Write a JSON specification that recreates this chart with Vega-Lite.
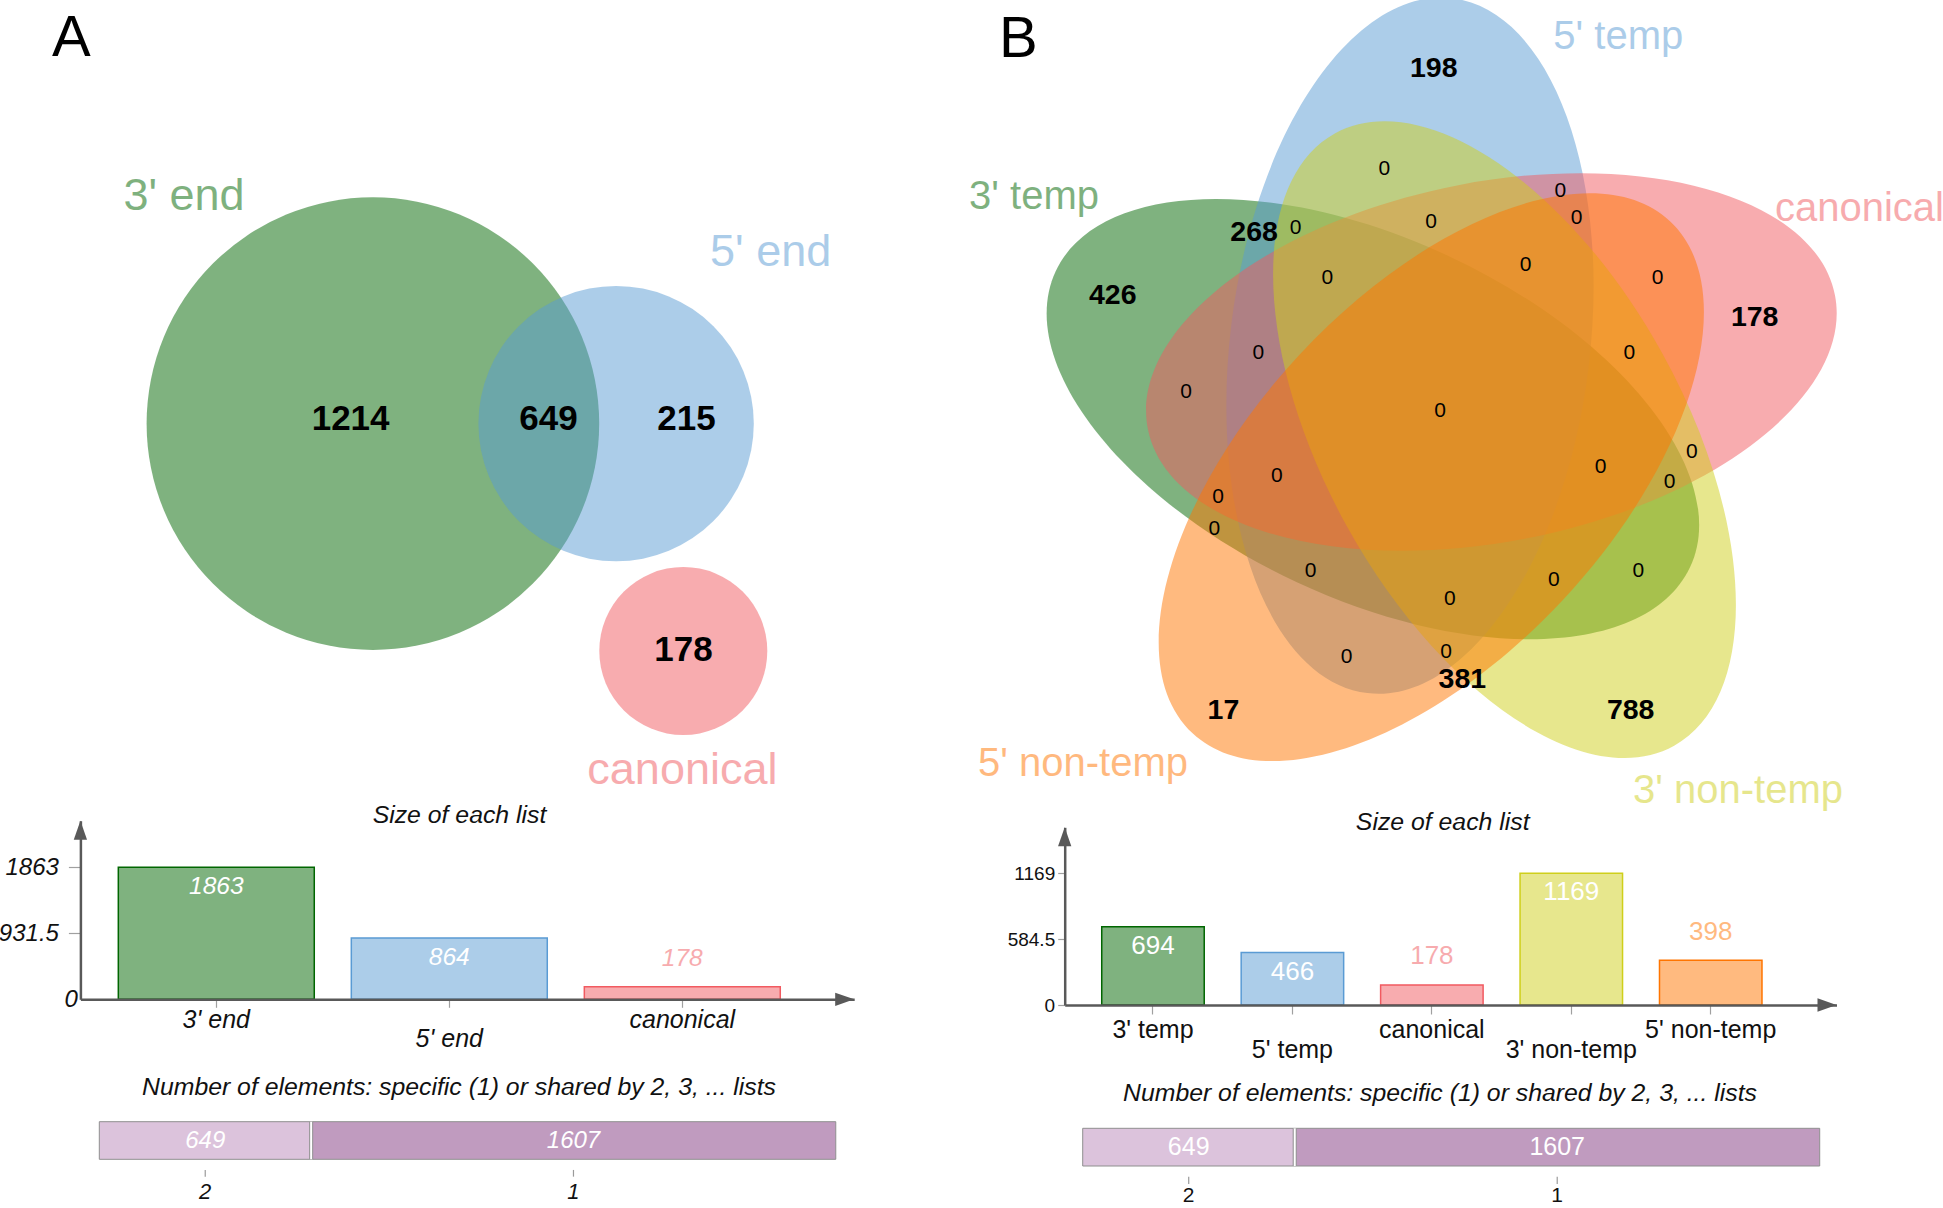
{
  "$schema": "https://vega.github.io/schema/vega-lite/v6.json",
  "width": 1943,
  "height": 1208,
  "padding": 0,
  "autosize": {"type": "none"},
  "background": "white",
  "config": {"view": {"stroke": null}, "font": "Liberation Sans", "axis": {"labelFont": "Liberation Sans", "zindex": 1}},
  "datasets": {
    "vennA": [
      {"set": "3' end", "x": 372.9, "y": 423.6, "r": 226.3},
      {"set": "5' end", "x": 616.1, "y": 423.6, "r": 137.7},
      {"set": "canonical", "x": 683.3, "y": 651, "r": 84}
    ],
    "vennB": [
      {"set": "3' temp", "x": 1372.9, "y": 419.2, "r": 350, "rot": 25},
      {"set": "5' temp", "x": 1410.0, "y": 345.7, "r": 350, "rot": 97},
      {"set": "canonical", "x": 1491.4, "y": 362, "r": 350, "rot": 169},
      {"set": "3' non-temp", "x": 1504.5, "y": 439.6, "r": 350, "rot": 61},
      {"set": "5' non-temp", "x": 1431.3, "y": 477.2, "r": 350, "rot": 133}
    ],
    "countsA": [
      {"n": 1214, "x": 350.6, "y": 419},
      {"n": 649, "x": 548.5, "y": 419},
      {"n": 215, "x": 686.5, "y": 419},
      {"n": 178, "x": 683.4, "y": 650}
    ],
    "countsB": [
      {"n": 198, "x": 1433.8, "y": 68.2},
      {"n": 268, "x": 1254.1, "y": 231.7},
      {"n": 426, "x": 1112.8, "y": 294.9},
      {"n": 178, "x": 1754.7, "y": 317.2},
      {"n": 17, "x": 1223.4, "y": 710.4},
      {"n": 381, "x": 1462.4, "y": 678.7},
      {"n": 788, "x": 1630.7, "y": 710.4},
      {"n": 0, "x": 1384.4, "y": 169.3},
      {"n": 0, "x": 1560.4, "y": 191},
      {"n": 0, "x": 1295.5, "y": 228.3},
      {"n": 0, "x": 1576.6, "y": 218.3},
      {"n": 0, "x": 1431.2, "y": 221.7},
      {"n": 0, "x": 1525.5, "y": 265},
      {"n": 0, "x": 1327.3, "y": 278.3},
      {"n": 0, "x": 1657.7, "y": 278.3},
      {"n": 0, "x": 1258.3, "y": 353.3},
      {"n": 0, "x": 1629.4, "y": 353.3},
      {"n": 0, "x": 1186.2, "y": 391.7},
      {"n": 0, "x": 1440.2, "y": 410.5},
      {"n": 0, "x": 1691.9, "y": 451.7},
      {"n": 0, "x": 1600.6, "y": 466.7},
      {"n": 0, "x": 1669.7, "y": 481.7},
      {"n": 0, "x": 1276.9, "y": 476},
      {"n": 0, "x": 1218, "y": 497.3},
      {"n": 0, "x": 1214.4, "y": 529.3},
      {"n": 0, "x": 1310.5, "y": 570.7},
      {"n": 0, "x": 1638.4, "y": 570.7},
      {"n": 0, "x": 1553.8, "y": 580},
      {"n": 0, "x": 1449.8, "y": 599.3},
      {"n": 0, "x": 1346.5, "y": 656.7},
      {"n": 0, "x": 1446.2, "y": 652.3}
    ],
    "setLabels": [
      {"panel": "A", "set": "3' end", "x": 184, "y": 209.5},
      {"panel": "A", "set": "5' end", "x": 770.6, "y": 265.7},
      {"panel": "A", "set": "canonical", "x": 682.4, "y": 784},
      {"panel": "B", "set": "5' temp", "x": 1618.3, "y": 49.3},
      {"panel": "B", "set": "3' temp", "x": 1034, "y": 209},
      {"panel": "B", "set": "canonical", "x": 1859.5, "y": 221},
      {"panel": "B", "set": "5' non-temp", "x": 1083, "y": 776},
      {"panel": "B", "set": "3' non-temp", "x": 1738, "y": 803}
    ],
    "panels": [
      {"p": "A", "x": 52, "y": 56},
      {"p": "B", "x": 999, "y": 56.5}
    ],
    "titles": [
      {"t": "Size of each list", "x": 459.5, "y": 823.3},
      {"t": "Size of each list", "x": 1442.7, "y": 830},
      {"t": "Number of elements: specific (1) or shared by 2, 3, ... lists", "x": 459, "y": 1095},
      {"t": "Number of elements: specific (1) or shared by 2, 3, ... lists", "x": 1440, "y": 1100.5}
    ],
    "arrows": [
      {"x": 844.7, "y": 999.3, "rot": 0},
      {"x": 80.4, "y": 830.2, "rot": 270},
      {"x": 1827, "y": 1005, "rot": 0},
      {"x": 1064.7, "y": 836.8, "rot": 270}
    ],
    "sizesA": [
      {"set": "3' end", "n": 1863},
      {"set": "5' end", "n": 864},
      {"set": "canonical", "n": 178}
    ],
    "sizesB": [
      {"set": "3' temp", "n": 694},
      {"set": "5' temp", "n": 466},
      {"set": "canonical", "n": 178},
      {"set": "3' non-temp", "n": 1169},
      {"set": "5' non-temp", "n": 398}
    ],
    "sharedA": [
      {"lists": "2", "n": 649},
      {"lists": "1", "n": 1607}
    ],
    "sharedB": [
      {"lists": "2", "n": 649},
      {"lists": "1", "n": 1607}
    ]
  },
  "layer": [
    {
      "encoding": {
        "x": {"field": "x", "type": "quantitative", "scale": {"domain": [0, 1943], "range": [0, 1943], "nice": false, "zero": false}, "axis": null},
        "y": {"field": "y", "type": "quantitative", "scale": {"domain": [0, 1208], "range": [0, 1208], "nice": false, "zero": false}, "axis": null}
      },
      "layer": [
        {
          "data": {"name": "vennA"},
          "mark": {"type": "point", "shape": "circle", "filled": true, "opacity": 0.5, "strokeWidth": 0},
          "encoding": {
            "color": {"field": "set", "type": "nominal", "legend": null, "scale": {"domain": ["3' end", "5' end", "canonical", "3' temp", "5' temp", "3' non-temp", "5' non-temp"], "range": ["#006600", "#5a9bd4", "#f15a60", "#006600", "#5a9bd4", "#cfcf1b", "#ff7500"]}},
            "size": {"field": "r", "type": "quantitative", "legend": null, "scale": {"type": "pow", "exponent": 2, "domain": [0, 100], "range": [0, 40000], "nice": false, "zero": true}}
          }
        },
        {
          "data": {"name": "vennB"},
          "mark": {"type": "point", "shape": "M -1 0 A 1 0.514 0 1 0 1 0 A 1 0.514 0 1 0 -1 0 Z", "filled": true, "opacity": 0.5, "strokeWidth": 0},
          "encoding": {
            "color": {"field": "set", "type": "nominal", "legend": null, "scale": {"domain": ["3' end", "5' end", "canonical", "3' temp", "5' temp", "3' non-temp", "5' non-temp"], "range": ["#006600", "#5a9bd4", "#f15a60", "#006600", "#5a9bd4", "#cfcf1b", "#ff7500"]}},
            "size": {"field": "r", "type": "quantitative", "legend": null, "scale": {"type": "pow", "exponent": 2, "domain": [0, 100], "range": [0, 40000], "nice": false, "zero": true}},
            "angle": {"field": "rot", "type": "quantitative", "scale": {"domain": [0, 360], "range": [0, 360]}}
          }
        },
        {
          "data": {"name": "countsA"},
          "mark": {"type": "text", "fontSize": 35, "fontWeight": "bold", "baseline": "middle", "align": "center", "color": "#000000"},
          "encoding": {"text": {"field": "n", "type": "nominal"}}
        },
        {
          "data": {"name": "countsB"},
          "transform": [{"filter": "datum.n > 0"}],
          "mark": {"type": "text", "fontSize": 28.5, "fontWeight": "bold", "baseline": "middle", "align": "center", "color": "#000000"},
          "encoding": {"text": {"field": "n", "type": "nominal"}}
        },
        {
          "data": {"name": "countsB"},
          "transform": [{"filter": "datum.n == 0"}],
          "mark": {"type": "text", "fontSize": 21, "baseline": "middle", "align": "center", "color": "#000000"},
          "encoding": {"text": {"field": "n", "type": "nominal"}}
        },
        {
          "data": {"name": "setLabels"},
          "transform": [{"filter": "datum.panel == 'A'"}],
          "mark": {"type": "text", "fontSize": 45, "baseline": "alphabetic", "align": "center", "opacity": 0.5},
          "encoding": {
            "text": {"field": "set", "type": "nominal"},
            "color": {"field": "set", "type": "nominal", "legend": null, "scale": {"domain": ["3' end", "5' end", "canonical", "3' temp", "5' temp", "3' non-temp", "5' non-temp"], "range": ["#006600", "#5a9bd4", "#f15a60", "#006600", "#5a9bd4", "#cfcf1b", "#ff7500"]}}
          }
        },
        {
          "data": {"name": "setLabels"},
          "transform": [{"filter": "datum.panel == 'B'"}],
          "mark": {"type": "text", "fontSize": 40, "baseline": "alphabetic", "align": "center", "opacity": 0.5},
          "encoding": {
            "text": {"field": "set", "type": "nominal"},
            "color": {"field": "set", "type": "nominal", "legend": null, "scale": {"domain": ["3' end", "5' end", "canonical", "3' temp", "5' temp", "3' non-temp", "5' non-temp"], "range": ["#006600", "#5a9bd4", "#f15a60", "#006600", "#5a9bd4", "#cfcf1b", "#ff7500"]}}
          }
        },
        {
          "data": {"name": "panels"},
          "mark": {"type": "text", "fontSize": 58, "baseline": "alphabetic", "align": "left", "color": "#000000"},
          "encoding": {"text": {"field": "p", "type": "nominal"}}
        },
        {
          "data": {"name": "titles"},
          "mark": {"type": "text", "fontSize": 24.8, "fontStyle": "italic", "baseline": "alphabetic", "align": "center", "color": "#111111"},
          "encoding": {"text": {"field": "t", "type": "nominal"}}
        },
        {
          "data": {"name": "arrows"},
          "mark": {"type": "point", "shape": "M 1 0 L -1 -0.7 L -1 0.7 Z", "filled": true, "size": 361, "color": "#595959", "opacity": 1, "strokeWidth": 0},
          "encoding": {
            "angle": {"field": "rot", "type": "quantitative", "scale": {"domain": [0, 360], "range": [0, 360]}}
          }
        }
      ]
    },
    {
      "data": {"name": "sizesA"},
      "encoding": {
        "x": {
          "field": "set", "type": "nominal", "sort": null,
          "scale": {"type": "band", "range": [80.4, 854.2], "paddingInner": 0.159, "paddingOuter": 0.24, "align": 0.339},
          "axis": {"orient": "bottom", "offset": -208.7, "title": null, "labelAngle": 0, "domainColor": "#595959", "domainWidth": 2.5, "tickColor": "#a0a0a0", "tickSize": 8, "tickWidth": 1.2, "labelFontSize": 25, "labelFontStyle": "italic", "labelColor": "#111111", "labelBaseline": "middle", "labelPadding": {"condition": {"test": "datum.value === \"5' end\"", "value": 31}, "value": 12.5}, "grid": false, "zindex": 1}
        },
        "y": {
          "field": "n", "type": "quantitative",
          "scale": {"domain": [0, 2520.7], "range": [999.3, 820.7], "nice": false},
          "axis": {"orient": "left", "offset": -80.4, "title": null, "values": [0, 931.5, 1863], "labelExpr": "'' + datum.value", "domainColor": "#595959", "domainWidth": 2.5, "tickColor": {"condition": {"test": "datum.value === 0", "value": "transparent"}, "value": "#a0a0a0"}, "tickSize": 12, "tickWidth": 1.2, "labelFontSize": 24, "labelFontStyle": "italic", "labelColor": "#111111", "labelPadding": {"condition": {"test": "datum.value === 0", "value": -9}, "value": 10}, "grid": false, "zindex": 1}
        }
      },
      "layer": [
        {
          "mark": {"type": "bar", "fillOpacity": 0.5, "strokeWidth": 1.5},
          "encoding": {
            "color": {"field": "set", "type": "nominal", "legend": null, "scale": {"domain": ["3' end", "5' end", "canonical", "3' temp", "5' temp", "3' non-temp", "5' non-temp"], "range": ["#006600", "#5a9bd4", "#f15a60", "#006600", "#5a9bd4", "#cfcf1b", "#ff7500"]}},
            "stroke": {"field": "set", "type": "nominal", "legend": null, "scale": {"domain": ["3' end", "5' end", "canonical", "3' temp", "5' temp", "3' non-temp", "5' non-temp"], "range": ["#006600", "#5a9bd4", "#f15a60", "#006600", "#5a9bd4", "#cfcf1b", "#ff7500"]}}
          }
        },
        {
          "transform": [{"filter": "datum.n >= 450"}],
          "mark": {"type": "text", "color": "white", "fontSize": 24.5, "fontStyle": "italic", "baseline": "middle", "align": "center", "dy": 19.5},
          "encoding": {"text": {"field": "n", "type": "nominal"}}
        },
        {
          "transform": [{"filter": "datum.n < 450"}],
          "mark": {"type": "text", "fontSize": 24.5, "fontStyle": "italic", "baseline": "middle", "align": "center", "dy": -28, "opacity": 0.5},
          "encoding": {
            "text": {"field": "n", "type": "nominal"},
            "color": {"field": "set", "type": "nominal", "legend": null, "scale": {"domain": ["3' end", "5' end", "canonical", "3' temp", "5' temp", "3' non-temp", "5' non-temp"], "range": ["#006600", "#5a9bd4", "#f15a60", "#006600", "#5a9bd4", "#cfcf1b", "#ff7500"]}}
          }
        }
      ]
    },
    {
      "data": {"name": "sizesB"},
      "encoding": {
        "x": {
          "field": "set", "type": "nominal", "sort": null,
          "scale": {"type": "band", "range": [1064.7, 1836.5], "paddingInner": 0.265, "paddingOuter": 0.4, "align": 0.332},
          "axis": {"orient": "bottom", "offset": -203, "title": null, "labelAngle": 0, "domainColor": "#595959", "domainWidth": 2.5, "tickColor": "#a0a0a0", "tickSize": 9, "tickWidth": 1.2, "labelFontSize": 25, "labelColor": "#111111", "labelBaseline": "middle", "labelPadding": {"condition": {"test": "datum.value === \"5' temp\" || datum.value === \"3' non-temp\"", "value": 35.2}, "value": 15.8}, "grid": false, "zindex": 1}
        },
        "y": {
          "field": "n", "type": "quantitative",
          "scale": {"domain": [0, 1577.3], "range": [1005, 827.3], "nice": false},
          "axis": {"orient": "left", "offset": -1064.7, "title": null, "values": [0, 584.5, 1169], "labelExpr": "'' + datum.value", "domainColor": "#595959", "domainWidth": 2.5, "tickColor": "#a0a0a0", "tickSize": 7, "tickWidth": 1.2, "labelFontSize": 19, "labelColor": "#111111", "labelPadding": 3, "grid": false, "zindex": 1}
        }
      },
      "layer": [
        {
          "mark": {"type": "bar", "fillOpacity": 0.5, "strokeWidth": 1.5},
          "encoding": {
            "color": {"field": "set", "type": "nominal", "legend": null, "scale": {"domain": ["3' end", "5' end", "canonical", "3' temp", "5' temp", "3' non-temp", "5' non-temp"], "range": ["#006600", "#5a9bd4", "#f15a60", "#006600", "#5a9bd4", "#cfcf1b", "#ff7500"]}},
            "stroke": {"field": "set", "type": "nominal", "legend": null, "scale": {"domain": ["3' end", "5' end", "canonical", "3' temp", "5' temp", "3' non-temp", "5' non-temp"], "range": ["#006600", "#5a9bd4", "#f15a60", "#006600", "#5a9bd4", "#cfcf1b", "#ff7500"]}}
          }
        },
        {
          "transform": [{"filter": "datum.n >= 450"}],
          "mark": {"type": "text", "color": "white", "fontSize": 26, "baseline": "middle", "align": "center", "dy": 19},
          "encoding": {"text": {"field": "n", "type": "nominal"}}
        },
        {
          "transform": [{"filter": "datum.n < 450"}],
          "mark": {"type": "text", "fontSize": 26, "baseline": "middle", "align": "center", "dy": -28.5, "opacity": 0.5},
          "encoding": {
            "text": {"field": "n", "type": "nominal"},
            "color": {"field": "set", "type": "nominal", "legend": null, "scale": {"domain": ["3' end", "5' end", "canonical", "3' temp", "5' temp", "3' non-temp", "5' non-temp"], "range": ["#006600", "#5a9bd4", "#f15a60", "#006600", "#5a9bd4", "#cfcf1b", "#ff7500"]}}
          }
        }
      ]
    },
    {
      "data": {"name": "sharedA"},
      "encoding": {
        "x": {"field": "n", "type": "quantitative", "stack": "zero", "scale": {"domain": [-57.9, 2315.8], "range": [80.4, 855.3], "nice": false, "zero": false}, "axis": {"orient": "bottom", "offset": -39, "title": null, "ticks": false, "labels": false, "grid": false, "domainColor": "#595959", "domainWidth": 2, "zindex": 1}},
        "y": {"datum": "el", "type": "nominal", "scale": {"type": "band", "domain": ["el"], "range": [1121.7, 1159.3], "paddingInner": 0, "paddingOuter": 0}, "axis": null},
        "order": {"field": "lists", "sort": "descending"},
        "detail": {"field": "lists", "type": "nominal"}
      },
      "layer": [
        {
          "mark": {"type": "bar", "stroke": "#8f8f8f", "strokeWidth": 1},
          "encoding": {"fill": {"field": "lists", "type": "nominal", "legend": null, "scale": {"domain": ["2", "1"], "range": ["#dcc3dc", "#c09bbf"]}}}
        },
        {
          "mark": {"type": "point", "shape": "M 0 -1 L 0 1", "filled": false, "size": 1414, "color": "white", "strokeWidth": 3},
          "encoding": {
            "x": {"field": "n", "type": "quantitative", "stack": "zero", "bandPosition": 0, "axis": null},
            "opacity": {"condition": {"test": "datum.lists == '1'", "value": 1}, "value": 0}
          }
        },
        {
          "mark": {"type": "point", "shape": "M -0.08 -1 L -0.08 1 M 0.08 -1 L 0.08 1", "filled": false, "size": 1414, "color": "#8f8f8f", "strokeWidth": 1},
          "encoding": {
            "x": {"field": "n", "type": "quantitative", "stack": "zero", "bandPosition": 0, "axis": null},
            "opacity": {"condition": {"test": "datum.lists == '1'", "value": 1}, "value": 0}
          }
        },
        {
          "mark": {"type": "text", "color": "white", "fontSize": 24, "fontStyle": "italic", "baseline": "middle", "align": "center"},
          "encoding": {
            "x": {"field": "n", "type": "quantitative", "stack": "zero", "bandPosition": 0.5, "axis": null},
            "text": {"field": "n", "type": "nominal"}
          }
        },
        {
          "mark": {"type": "text", "color": "#111111", "fontSize": 22, "fontStyle": "italic", "baseline": "middle", "align": "center", "dy": 51.2},
          "encoding": {
            "x": {"field": "n", "type": "quantitative", "stack": "zero", "bandPosition": 0.5, "axis": null},
            "text": {"field": "lists", "type": "nominal"}
          }
        },
        {
          "mark": {"type": "point", "shape": "M 0 -1 L 0 1", "filled": false, "size": 45, "color": "#9a9a9a", "strokeWidth": 1.2, "opacity": 1, "yOffset": 32.8},
          "encoding": {
            "x": {"field": "n", "type": "quantitative", "stack": "zero", "bandPosition": 0.5, "axis": null}
          }
        }
      ]
    },
    {
      "data": {"name": "sharedB"},
      "encoding": {
        "x": {"field": "n", "type": "quantitative", "stack": "zero", "scale": {"domain": [-59.4, 2312], "range": [1063.3, 1838], "nice": false, "zero": false}, "axis": {"orient": "bottom", "offset": -32.3, "title": null, "ticks": false, "labels": false, "grid": false, "domainColor": "#595959", "domainWidth": 2, "zindex": 1}},
        "y": {"datum": "el", "type": "nominal", "scale": {"type": "band", "domain": ["el"], "range": [1128.3, 1166], "paddingInner": 0, "paddingOuter": 0}, "axis": null},
        "order": {"field": "lists", "sort": "descending"},
        "detail": {"field": "lists", "type": "nominal"}
      },
      "layer": [
        {
          "mark": {"type": "bar", "stroke": "#8f8f8f", "strokeWidth": 1},
          "encoding": {"fill": {"field": "lists", "type": "nominal", "legend": null, "scale": {"domain": ["2", "1"], "range": ["#dcc3dc", "#c09bbf"]}}}
        },
        {
          "mark": {"type": "point", "shape": "M 0 -1 L 0 1", "filled": false, "size": 1421, "color": "white", "strokeWidth": 3},
          "encoding": {
            "x": {"field": "n", "type": "quantitative", "stack": "zero", "bandPosition": 0, "axis": null},
            "opacity": {"condition": {"test": "datum.lists == '1'", "value": 1}, "value": 0}
          }
        },
        {
          "mark": {"type": "point", "shape": "M -0.08 -1 L -0.08 1 M 0.08 -1 L 0.08 1", "filled": false, "size": 1421, "color": "#8f8f8f", "strokeWidth": 1},
          "encoding": {
            "x": {"field": "n", "type": "quantitative", "stack": "zero", "bandPosition": 0, "axis": null},
            "opacity": {"condition": {"test": "datum.lists == '1'", "value": 1}, "value": 0}
          }
        },
        {
          "mark": {"type": "text", "color": "white", "fontSize": 25, "baseline": "middle", "align": "center"},
          "encoding": {
            "x": {"field": "n", "type": "quantitative", "stack": "zero", "bandPosition": 0.5, "axis": null},
            "text": {"field": "n", "type": "nominal"}
          }
        },
        {
          "mark": {"type": "text", "color": "#111111", "fontSize": 21, "baseline": "middle", "align": "center", "dy": 49},
          "encoding": {
            "x": {"field": "n", "type": "quantitative", "stack": "zero", "bandPosition": 0.5, "axis": null},
            "text": {"field": "lists", "type": "nominal"}
          }
        },
        {
          "mark": {"type": "point", "shape": "M 0 -1 L 0 1", "filled": false, "size": 53, "color": "#9a9a9a", "strokeWidth": 1.2, "opacity": 1, "yOffset": 33.2},
          "encoding": {
            "x": {"field": "n", "type": "quantitative", "stack": "zero", "bandPosition": 0.5, "axis": null}
          }
        }
      ]
    }
  ],
  "resolve": {
    "scale": {"x": "independent", "y": "independent"},
    "axis": {"x": "independent", "y": "independent"}
  }
}
